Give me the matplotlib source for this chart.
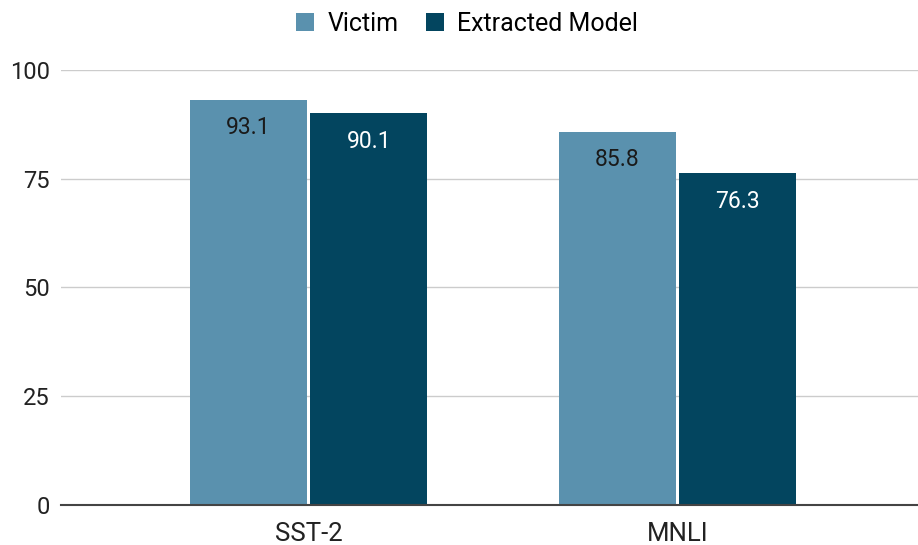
import matplotlib.pyplot as plt
import numpy as np

plt.rcParams['font.family'] = ['Roboto', 'DejaVu Sans']

categories = ['SST-2', 'MNLI']
victim = [93.1, 85.8]
extracted = [90.1, 76.3]
series_names = ['Victim', 'Extracted Model']
yticks = [0, 25, 50, 75, 100]

c_victim = '#5a91ae'
c_extr = '#03455f'

fig = plt.figure(figsize=(9.18, 5.45), dpi=100)
ax = fig.add_axes([0.0665, 0.0734, 0.9335, 0.7982])

x = np.arange(len(categories))
w = 0.316
off = 0.163
b1 = ax.bar(x - off, victim, w, color=c_victim, label=series_names[0], zorder=3)
b2 = ax.bar(x + off, extracted, w, color=c_extr, label=series_names[1], zorder=3)

# value labels sit just inside the top of each bar
for bars, vals, tc in [(b1, victim, '#1a1a1a'), (b2, extracted, 'white')]:
    for r, v in zip(bars, vals):
        ax.annotate(f'{v:.1f}', (r.get_x() + r.get_width() / 2, v),
                    xytext=(0, -28), textcoords='offset pixels',
                    ha='center', va='center', fontsize=16.5, color=tc, zorder=4)

ax.set_xlim(-0.671, 1.652)
ax.set_ylim(0, 100)
ax.set_yticks(yticks)
ax.set_xticks(x)
ax.set_xticklabels(categories, fontsize=18.5)
ax.grid(axis='y', color='#cccccc', linewidth=1, zorder=0)
for s in ['top', 'right', 'left']:
    ax.spines[s].set_visible(False)
ax.spines['bottom'].set_color('#444444')
ax.spines['bottom'].set_linewidth(1.5)
ax.spines['bottom'].set_zorder(5)
ax.tick_params(axis='both', length=0, colors='#222222')
ax.tick_params(axis='y', pad=8, labelsize=17)
ax.tick_params(axis='x', pad=12)

fig.legend(loc='upper center', bbox_to_anchor=(0.509, 1.02), ncol=2, frameon=False,
           fontsize=18, handlelength=0.7, handleheight=0.7, handletextpad=0.55,
           columnspacing=1.1)

fig.savefig('out.png', dpi=100)
